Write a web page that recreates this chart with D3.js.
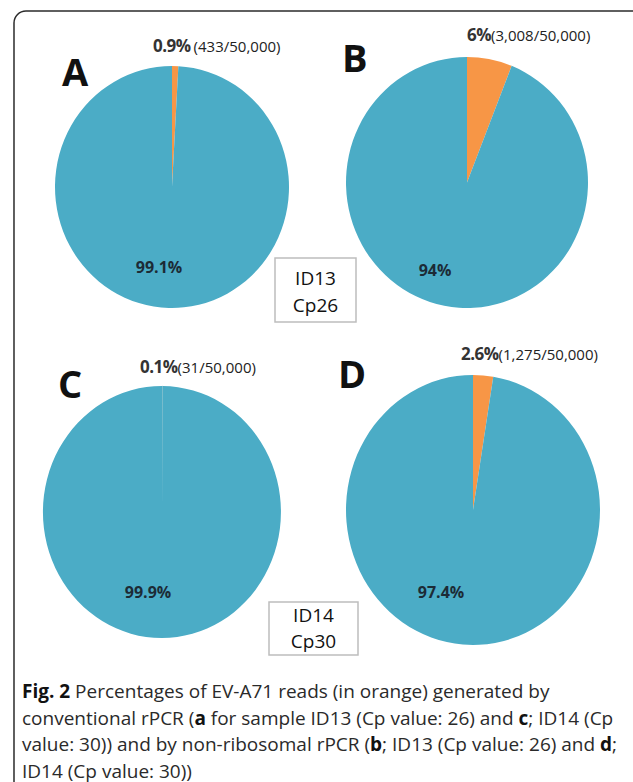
<!DOCTYPE html>
<html>
<head>
<meta charset="utf-8">
<script src="https://cdn.jsdelivr.net/npm/d3@7"></script>
<style>
  body { margin: 0; background: #fff; }
  svg { display: block; }
</style>
</head>
<body>
<div id="chart"></div>
<script>
// panel data
const panels = ["A", "B", "C", "D"];
const evReads = [433, 3008, 31, 1275];
const totalReads = 50000;
const evLabels = ["0.9%", "6%", "0.1%", "2.6%"];
const readLabels = ["(433/50,000)", "(3,008/50,000)", "(31/50,000)", "(1,275/50,000)"];
const otherLabels = ["99.1%", "94%", "99.9%", "97.4%"];
const samples = [["ID13", "Cp26"], ["ID14", "Cp30"]];

const colors = { ev: "#F79646", other: "#4BACC6" };

// layout of each pie in the page
const layout = [
    { cx: 172, cy: 187, rx: 117, ry: 121, letter: [62, 86], top: [153, 52], inner: [159, 273] },
    { cx: 467, cy: 182.5, rx: 121, ry: 125.5, letter: [342, 72], top: [467, 41], inner: [435, 276] },
    { cx: 162, cy: 512, rx: 119, ry: 126, letter: [58, 398], top: [140, 373], inner: [148, 598] },
    { cx: 473, cy: 510, rx: 127, ry: 135, letter: [338, 388], top: [461, 360], inner: [441, 598] }
];

const width = 633, height = 782;
const svg = d3.select("#chart").append("svg")
    .attr("width", width).attr("height", height);

// outer rounded frame (runs off the right and bottom)
svg.append("rect")
    .attr("x", 14).attr("y", 11)
    .attr("width", 640).attr("height", 800)
    .attr("rx", 12)
    .attr("fill", "none")
    .attr("stroke", "#2b2b2b")
    .attr("stroke-width", 1.5);

const pie = d3.pie().sort(null).value(d => d.value);
const R = 100;
const arc = d3.arc().innerRadius(0).outerRadius(R);

panels.forEach((p, i) => {
    const L = layout[i];
    const slices = pie([
        { key: "ev", value: evReads[i] },
        { key: "other", value: totalReads - evReads[i] }
    ]);

    svg.append("g")
        .attr("transform", `translate(${L.cx},${L.cy}) scale(${L.rx / R},${L.ry / R})`)
        .selectAll("path")
        .data(slices).enter().append("path")
        .attr("d", arc)
        .attr("fill", d => colors[d.data.key])
        .attr("stroke", d => d.data.key === "ev" && evReads[i] < 100 ? "#a9d4e0" : "none")
        .attr("stroke-width", 0.6);

    // panel letter
    svg.append("text")
        .attr("x", L.letter[0]).attr("y", L.letter[1])
        .attr("font-family", "'Open Sans', sans-serif")
        .attr("font-weight", "bold")
        .attr("font-size", "38px")
        .attr("fill", "#111")
        .text(p);

    // percentage of EV-A71 reads
    const t = svg.append("text")
        .attr("x", L.top[0]).attr("y", L.top[1])
        .attr("font-family", "'Open Sans', sans-serif")
        .attr("fill", "#222");
    t.append("tspan").attr("font-weight", "bold").attr("font-size", "17px").attr("fill", "#333")
        .attr("letter-spacing", "-0.5px").text(evLabels[i]);
    t.append("tspan").attr("font-size", "15px").attr("dx", i === 0 ? 3 : 0).text(readLabels[i]);

    // percentage of other reads
    svg.append("text")
        .attr("x", L.inner[0]).attr("y", L.inner[1])
        .attr("text-anchor", "middle")
        .attr("font-family", "'Open Sans', sans-serif")
        .attr("font-weight", "bold")
        .attr("font-size", "16px")
        .attr("fill", "#1c2b36")
        .text(otherLabels[i]);
});

// sample boxes
const boxes = [
    { x: 275, y: 258, w: 81, h: 64, ty: [285, 312] },
    { x: 269, y: 602, w: 89, h: 53, ty: [622, 648] }
];
samples.forEach((s, i) => {
    const b = boxes[i];
    svg.append("rect")
        .attr("x", b.x).attr("y", b.y).attr("width", b.w).attr("height", b.h)
        .attr("fill", "#fff").attr("stroke", "#bdbdbd").attr("stroke-width", 1.5);
    s.forEach((line, j) => {
        svg.append("text")
            .attr("x", b.x + b.w / 2).attr("y", b.ty[j])
            .attr("text-anchor", "middle")
            .attr("font-family", "'Open Sans', sans-serif")
            .attr("font-size", "19px")
            .attr("fill", "#111")
            .text(line);
    });
});

// figure caption
const caption = [
    [["b", "Fig. 2"], ["n", " Percentages of EV-A71 reads (in orange) generated by"]],
    [["n", "conventional rPCR ("], ["b", "a"], ["n", " for sample ID13 (Cp value: 26) and "], ["b", "c"], ["n", "; ID14 (Cp"]],
    [["n", "value: 30)) and by non-ribosomal rPCR ("], ["b", "b"], ["n", "; ID13 (Cp value: 26) and "], ["b", "d"], ["n", ";"]],
    [["n", "ID14 (Cp value: 30))"]]
];
caption.forEach((parts, k) => {
    const t = svg.append("text")
        .attr("x", 22).attr("y", 698 + k * 26.5)
        .attr("font-family", "'Open Sans', sans-serif")
        .attr("font-size", "19px")
        .attr("fill", "#2a2a2a")
        .attr("xml:space", "preserve");
    parts.forEach(([w, s]) => {
        t.append("tspan")
            .attr("font-weight", w === "b" ? "bold" : "normal")
            .attr("fill", w === "b" ? "#111" : null)
            .style("white-space", "pre")
            .text(s);
    });
});
</script>
</body>
</html>
